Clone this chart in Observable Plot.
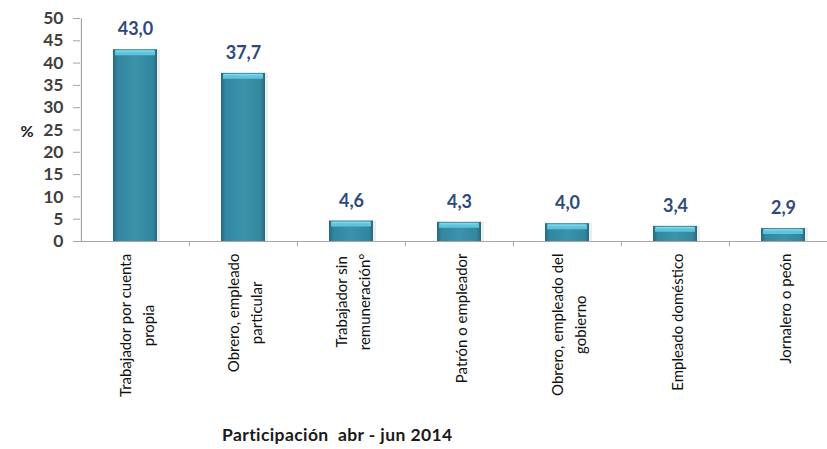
<!DOCTYPE html>
<html>
<head>
<meta charset="utf-8">
<script src="https://cdn.jsdelivr.net/npm/d3@7"></script>
<script src="https://cdn.jsdelivr.net/npm/@observablehq/plot@0.6"></script>
<style>
  html, body { margin: 0; padding: 0; background: #fff; overflow: hidden; }
  #chart svg { overflow: hidden; }
  #chart g[aria-label^="y-axis"] text { font-family: Lato, sans-serif; font-size: 17.5px; font-weight: bold; fill: #3f3f3f; }
  #chart g[aria-label^="y-axis"] line, #chart g[aria-label^="y-axis"] path { stroke: #a6a6a6; }
  #caption { font-family: Lato, sans-serif; font-weight: bold; font-size: 17.5px; letter-spacing: 0.4px; color: #1a1a1a; white-space: pre; margin-left: 222px; margin-top: 3px; line-height: 20px; }
</style>
</head>
<body>
<div id="chart"></div>
<div id="caption"></div>
<script>
const categories = [
  "Trabajador por cuenta\npropia",
  "Obrero, empleado\nparticular",
  "Trabajador sin\nremuneración°",
  "Patrón o empleador",
  "Obrero, empleado del\ngobierno",
  "Empleado doméstico",
  "Jornalero o peón"
];
const values = [43.0, 37.7, 4.6, 4.3, 4.0, 3.4, 2.9];
const yTicks = [0, 5, 10, 15, 20, 25, 30, 35, 40, 45, 50];
const yLabel = "%";
const captionText = "Participación  abr - jun 2014";

const data = categories.map((c, i) => ({cat: c, value: values[i]}));

const W = 827, H = 422;
const mL = 80, mR = -10, mT = 18, mB = 181;
const step = (W - mR - mL) / categories.length;

const labelFont = 15;
const ctx = document.createElement("canvas").getContext("2d");
ctx.font = `${labelFont}px Lato`;
const labelWidth = c => Math.max(...c.split("\n").map(s => ctx.measureText(s).width));

const fmt = v => v.toFixed(1).replace(".", ",");

const chart = Plot.plot({
  width: W,
  height: H,
  marginLeft: mL,
  marginRight: mR,
  marginTop: mT,
  marginBottom: mB,
  style: {fontFamily: "Lato, sans-serif", background: "#fff"},
  x: {domain: categories, padding: 0, axis: null},
  y: {domain: [0, 50], ticks: yTicks, tickSize: 7, tickPadding: 10, label: null, tickFormat: d => String(d)},
  marks: [
    // soft shadow
    Plot.barY(data, {x: "cat", y: "value", fill: "#dcdcdc", fillOpacity: 0.5, insetLeft: 34, insetRight: 30, dx: 1}),
    Plot.barY(data, {x: "cat", y: "value", fill: "url(#barGrad)", insetLeft: 32, insetRight: 32}),
    Plot.tickY(data, {x: "cat", y: "value", stroke: "#5ec3db", strokeWidth: 5, dy: 3, insetLeft: 34, insetRight: 34}),
    Plot.tickY(data, {x: "cat", y: "value", stroke: "#7fd5ea", strokeWidth: 1.5, dy: 1.5, insetLeft: 35, insetRight: 35}),
    Plot.ruleY([0], {stroke: "#a6a6a6", strokeWidth: 1.2}),
    Plot.ruleX([categories[0]], {x: d => d, dx: -step / 2, y1: 0, y2: 50, stroke: "#a6a6a6", strokeWidth: 1.2}),
    Plot.ruleX(categories.slice(1), {x: d => d, dx: -step / 2, y1: 0, y2: -1.2, stroke: "#a6a6a6"}),
    Plot.text(data, {x: "cat", y: "value", text: d => fmt(d.value), dy: -20, fontSize: 18, fontWeight: "bold", fill: "#2e4a7d"}),
    Plot.text([yLabel], {text: d => d, frameAnchor: "left", dx: -60, dy: 2, fontSize: 16, fontWeight: "bold", fill: "#1a1a1a"}),
    ...data.map(d => Plot.text([d], {
      x: "cat", text: "cat", frameAnchor: "bottom", rotate: -90,
      textAnchor: "middle", lineAnchor: "middle", lineHeight: 1.5,
      dy: 12 + labelWidth(d.cat) / 2, fontSize: labelFont, fill: "#111"
    }))
  ]
});

const svg = d3.select(chart);
const defs = svg.insert("defs", ":first-child");
const g1 = defs.append("linearGradient").attr("id", "barGrad").attr("x1", "0").attr("x2", "1").attr("y1", "0").attr("y2", "0");
[[0, "#25687a"], [0.1, "#3386a0"], [0.5, "#3b93aa"], [0.9, "#3386a0"], [1, "#25687a"]].forEach(([o, c]) => g1.append("stop").attr("offset", o).attr("stop-color", c));

document.getElementById("chart").append(chart);
document.getElementById("caption").textContent = captionText;
</script>
</body>
</html>
